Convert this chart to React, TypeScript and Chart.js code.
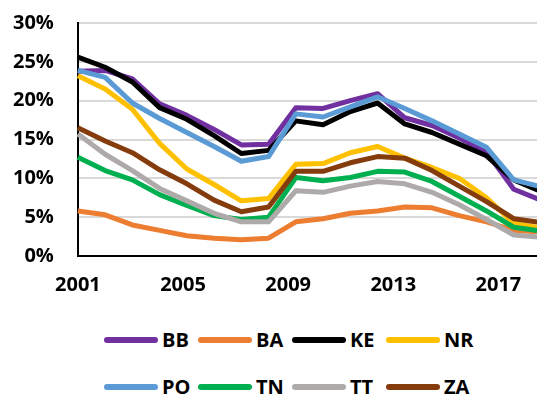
import React, { useEffect, useRef } from 'react';
import { Chart, registerables } from 'chart.js';

Chart.register(...registerables);

const YEARS = [
  '2001', '2002', '2003', '2004', '2005', '2006', '2007', '2008', '2009',
  '2010', '2011', '2012', '2013', '2014', '2015', '2016', '2017', '2018',
];
const LABEL_YEARS = [2001, 2005, 2009, 2013, 2017];
const LABEL_AXIS_MIN = 2001;
const LABEL_AXIS_MAX = 2018.62;

const BB = [23.8, 23.9, 22.8, 19.6, 18.1, 16.3, 14.3, 14.4, 19.1, 19.0, 20.0, 20.9, 17.8, 16.8, 15.2, 13.4, 8.6, 7.2];
const BA = [5.8, 5.3, 4.0, 3.3, 2.6, 2.3, 2.1, 2.3, 4.4, 4.8, 5.5, 5.8, 6.3, 6.2, 5.2, 4.4, 3.3, 3.1];
const KE = [25.6, 24.3, 22.4, 19.1, 17.6, 15.5, 13.2, 13.6, 17.4, 16.9, 18.6, 19.7, 17.0, 15.9, 14.4, 12.9, 9.8, 8.3];
const NR = [23.2, 21.5, 18.9, 14.5, 11.2, 9.2, 7.1, 7.4, 11.8, 11.9, 13.3, 14.1, 12.6, 11.4, 10.0, 7.5, 4.2, 3.6];
const PO = [23.9, 23.0, 19.7, 17.7, 15.9, 14.1, 12.2, 12.8, 18.3, 17.9, 19.2, 20.5, 19.0, 17.4, 15.7, 14.0, 9.8, 8.9];
const TN = [12.7, 11.0, 9.8, 7.9, 6.5, 5.2, 4.7, 5.0, 10.1, 9.7, 10.1, 10.9, 10.8, 9.6, 7.7, 5.8, 3.7, 3.2];
const TT = [15.7, 13.1, 11.0, 8.7, 7.1, 5.5, 4.4, 4.4, 8.4, 8.2, 9.0, 9.6, 9.3, 8.2, 6.6, 4.7, 2.7, 2.4];
const ZA = [16.5, 14.8, 13.3, 11.1, 9.3, 7.2, 5.7, 6.3, 10.9, 10.9, 12.0, 12.8, 12.6, 11.0, 9.0, 7.0, 4.8, 4.3];

const SERIES_NAMES = ['BB', 'BA', 'KE', 'NR', 'PO', 'TN', 'TT', 'ZA'];
const SERIES_VALUES = [BB, BA, KE, NR, PO, TN, TT, ZA];
const SERIES_COLORS = ['#7030A0', '#ED7D31', '#000000', '#FFC000', '#5B9BD5', '#00B050', '#AEAAAA', '#843C0C'];

const Y_MIN = 0;
const Y_MAX = 30;
const Y_STEP = 5;

const FONT_FAMILY = '"Open Sans", "DejaVu Sans", sans-serif';
const tickFont = { family: FONT_FAMILY, size: 20, weight: 'bold' as const };

export default function App() {
  const canvasRef = useRef<HTMLCanvasElement | null>(null);

  useEffect(() => {
    const canvas = canvasRef.current;
    if (!canvas) return;

    const datasets = SERIES_NAMES.map((name, i) => ({
      label: name,
      data: SERIES_VALUES[i],
      borderColor: SERIES_COLORS[i],
      backgroundColor: SERIES_COLORS[i],
      borderWidth: 5,
      borderJoinStyle: 'round' as const,
      borderCapStyle: 'butt' as const,
      pointRadius: 0,
      tension: 0,
      fill: false,
      // later series are painted over earlier ones
      order: SERIES_NAMES.length - i,
    }));

    const chart = new Chart(canvas, {
      type: 'line',
      data: { labels: YEARS, datasets },
      options: {
        animation: false,
        responsive: false,
        layout: { padding: { top: 23, left: 13, right: 0, bottom: 2 } },
        plugins: {
          legend: { display: false },
          tooltip: { enabled: false },
        },
        scales: {
          x: {
            type: 'category',
            weight: 0,
            grid: { display: false, drawTicks: false },
            ticks: { display: false },
            border: { display: true, color: '#000000', width: 2 },
          },
          xl: {
            type: 'linear',
            position: 'bottom',
            weight: 1,
            bounds: 'data',
            min: LABEL_AXIS_MIN,
            max: LABEL_AXIS_MAX,
            grid: { display: false, drawTicks: false },
            border: { display: false },
            afterBuildTicks: (scale: any) => {
              scale.ticks = LABEL_YEARS.map((v) => ({ value: v }));
            },
            ticks: {
              autoSkip: false,
              padding: 17,
              color: '#000000',
              font: tickFont,
              maxRotation: 0,
              callback: (v: any) => String(v),
            },
          },
          y: {
            min: Y_MIN,
            max: Y_MAX,
            grid: {
              color: '#D9D9D9',
              lineWidth: 2,
              drawTicks: true,
              tickLength: 24,
              tickColor: 'rgba(0,0,0,0)',
            },
            border: { display: true, color: '#000000', width: 2 },
            ticks: {
              stepSize: Y_STEP,
              padding: 0,
              color: '#000000',
              font: tickFont,
              callback: (v: any) => `${v}%`,
            },
          },
        },
      },
    } as any);

    return () => chart.destroy();
  }, []);

  return (
    <div
      style={{
        position: 'fixed',
        left: 0,
        top: 0,
        width: 537,
        height: 396,
        overflow: 'hidden',
        background: '#ffffff',
      }}
    >
      <canvas
        ref={canvasRef}
        width={541}
        height={316}
        style={{ position: 'absolute', left: 0, top: 0, width: 541, height: 316 }}
      />
      <div
        style={{
          position: 'absolute',
          left: 104,
          top: 316,
          width: 376,
          display: 'flex',
          flexWrap: 'wrap',
          fontFamily: FONT_FAMILY,
          fontWeight: 'bold',
          fontSize: 20,
          color: '#000000',
        }}
      >
        {SERIES_NAMES.map((name, i) => (
          <div
            key={name}
            style={{ width: 94, height: 47, display: 'flex', alignItems: 'center' }}
          >
            <span
              style={{
                display: 'inline-block',
                width: 54,
                height: 6,
                borderRadius: 3,
                background: SERIES_COLORS[i],
                marginRight: 4,
              }}
            />
            <span>{name}</span>
          </div>
        ))}
      </div>
    </div>
  );
}
